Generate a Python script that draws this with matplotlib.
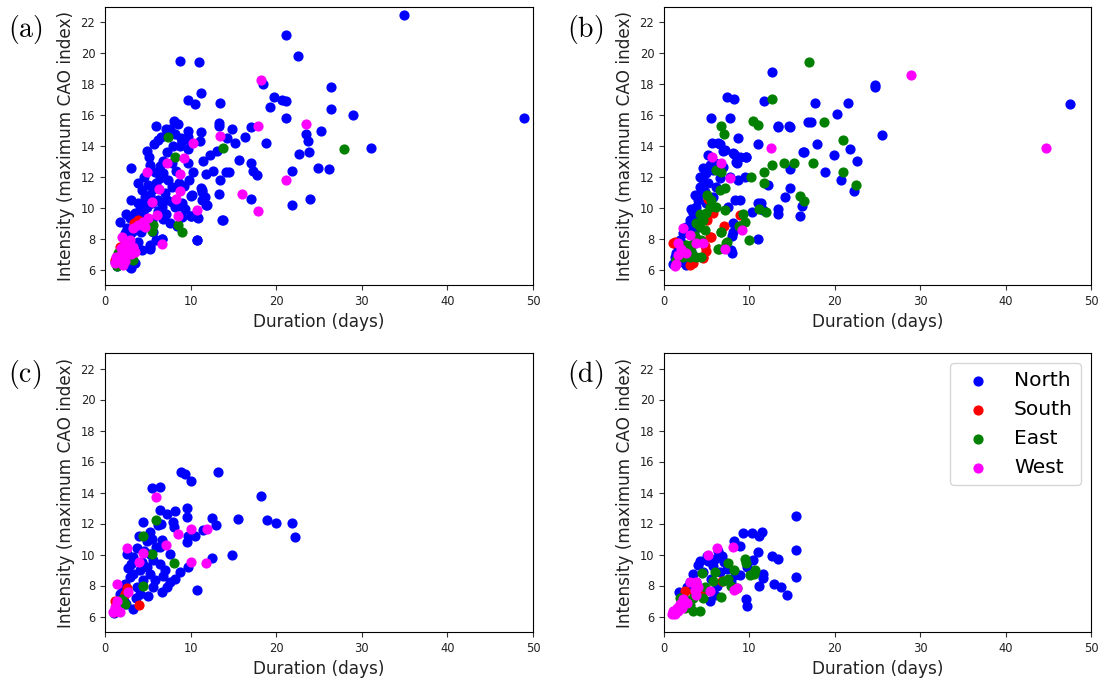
import matplotlib
matplotlib.use("Agg")
import matplotlib.pyplot as plt
import numpy as np

plt.rcParams["mathtext.fontset"] = "cm"

# ---- panel (a) ----
a_north = [
    (34.9, 22.5), (21.1, 21.2), (22.6, 19.8), (8.8, 19.5), (11.0, 19.45), (18.5, 18.0),
    (26.4, 17.8), (11.2, 17.4), (9.7, 17.0), (10.5, 16.7), (13.4, 16.8), (19.7, 17.2),
    (20.7, 17.0), (21.1, 16.9), (19.3, 16.5), (26.4, 16.4), (21.2, 15.8), (29.0, 16.0),
    (48.9, 15.8), (5.9, 15.3), (8.1, 15.6), (8.5, 15.4), (7.1, 15.1), (7.6, 15.1),
    (9.7, 15.0), (11.2, 14.9), (13.3, 15.5), (13.3, 15.3), (14.8, 15.1), (17.0, 15.25),
    (23.5, 14.8), (23.7, 14.3), (25.2, 15.0), (6.5, 14.6), (8.9, 14.5), (9.7, 14.6),
    (11.1, 14.3), (14.2, 14.5), (15.2, 14.2), (16.3, 14.6), (18.8, 14.2), (31.1, 13.9),
    (22.7, 13.5), (23.8, 13.6), (5.7, 14.1), (4.9, 13.7), (5.1, 13.3), (3.0, 12.6),
    (6.4, 12.7), (9.7, 12.9), (11.5, 13.0), (12.3, 13.4), (13.1, 13.7), (15.6, 13.1),
    (17.0, 12.9), (17.3, 12.4), (17.7, 12.1), (10.3, 12.3), (11.8, 12.2), (12.6, 12.4),
    (14.1, 12.3), (14.5, 12.3), (13.4, 11.8), (21.8, 12.4), (24.9, 12.6), (26.2, 12.5),
    (11.2, 11.25), (11.3, 11.0), (13.3, 10.9), (10.0, 10.75), (17.1, 10.6), (24.0, 10.6),
    (21.8, 10.2), (11.3, 10.5), (11.8, 10.2), (8.7, 10.1), (10.0, 9.45), (10.7, 9.4),
    (13.8, 9.2), (7.1, 9.6), (1.75, 9.05), (10.7, 7.9), (6.7, 8.0), (5.2, 7.6),
    (5.3, 7.35), (3.0, 6.1), (8.8, 14.0), (9.7, 13.8), (9.0, 14.3), (10.1, 14.2),
    (4.36, 11.15), (5.07, 11.47), (4.68, 10.71), (3.9, 10.28), (3.51, 9.63), (2.92, 9.31),
    (2.53, 8.66), (4.09, 9.85), (5.46, 10.28), (6.24, 10.5), (6.63, 10.06), (7.01, 10.93),
    (7.4, 11.79), (6.82, 12.23), (7.79, 11.36), (7.21, 10.5), (8.18, 10.06), (8.96, 10.28),
    (9.35, 9.95), (10.13, 10.82), (11.3, 11.15), (11.69, 10.71), (11.89, 10.17), (10.05, 9.46),
    (10.91, 9.31), (8.96, 9.42), (13.72, 9.24), (10.76, 7.9), (6.7, 8.01), (5.26, 7.47),
    (4.29, 7.25), (2.92, 6.17), (5.46, 9.2), (4.87, 10.06), (3.31, 8.77), (2.34, 8.34),
    (1.2, 6.5), (1.5, 6.9), (1.8, 7.2), (2.1, 7.5), (2.5, 7.8), (2.8, 8.1),
    (3.2, 8.4), (3.6, 8.9), (4.0, 9.3), (4.4, 9.7), (4.8, 10.4), (5.2, 10.8),
    (5.6, 11.2), (6.0, 11.6), (6.4, 11.9), (5.8, 12.3), (6.8, 13.0), (7.3, 13.6),
    (7.8, 12.9), (8.3, 12.4), (8.6, 11.6), (9.2, 11.4), (9.8, 11.8), (6.2, 9.8),
    (6.8, 9.3), (7.6, 9.0), (4.2, 8.4), (3.8, 7.8), (3.2, 7.2), (2.6, 6.8),
    (2.0, 6.6), (1.4, 6.2), (3.5, 6.4), (5.6, 8.4), (6.0, 7.9), (7.8, 10.4),
    (8.4, 8.8), (3.0, 10.5), (2.4, 9.6), (3.8, 11.6), (4.5, 12.0), (5.3, 12.8),
    (6.2, 14.4), (7.9, 14.0), (8.2, 14.8),
]
a_south = [(3.9, 9.2), (1.75, 7.47), (2.73, 6.86), (1.17, 6.65), (3.4, 9.0)]
a_east = [
    (7.4, 14.6), (13.8, 13.9), (27.9, 13.8), (8.2, 13.3), (8.5, 8.9), (8.96, 8.4),
    (5.65, 8.88), (1.56, 7.08), (2.73, 6.97), (3.31, 6.65), (1.36, 6.22), (5.45, 8.5),
]
a_west = [
    (18.2, 18.3), (17.9, 15.3), (23.5, 15.4), (10.3, 14.2), (13.4, 14.65), (9.2, 13.2),
    (7.2, 12.9), (4.9, 12.3), (8.8, 12.2), (6.3, 11.2), (8.8, 11.1), (16.0, 10.9),
    (21.2, 11.8), (5.5, 10.4), (8.3, 10.6), (10.7, 9.85), (17.9, 9.8), (8.5, 9.5),
    (6.7, 7.65), (6.04, 9.52), (5.07, 9.31), (4.48, 9.09), (3.9, 8.88), (3.31, 8.66),
    (4.68, 8.77), (1.95, 8.11), (2.34, 7.68), (2.92, 7.9), (3.31, 7.47), (3.51, 7.15),
    (2.34, 7.08), (1.75, 6.86), (1.17, 6.43), (1.56, 6.54), (2.34, 6.54), (2.6, 7.3),
    (1.9, 7.4), (3.0, 7.0), (2.1, 6.3), (1.3, 6.8),
]

# ---- panel (b) ----
b_north = [
    (12.7, 18.8), (24.7, 17.95), (24.7, 17.8), (47.5, 16.7), (7.4, 17.15), (8.2, 17.05),
    (11.75, 16.9), (17.7, 16.8), (21.5, 16.8), (5.46, 15.8), (7.7, 15.8), (13.4, 15.25),
    (14.75, 15.25), (17.2, 15.55), (20.2, 16.1), (8.7, 14.5), (11.0, 14.15), (25.5, 14.7),
    (21.8, 13.8), (5.6, 14.2), (6.6, 14.1), (6.9, 13.7), (8.2, 13.5), (8.6, 12.9),
    (9.6, 13.3), (17.9, 14.1), (16.3, 13.6), (19.9, 13.4), (22.6, 13.0), (18.9, 12.3),
    (20.7, 11.8), (22.2, 11.1), (12.2, 11.5), (14.75, 12.5), (14.75, 11.25), (14.2, 10.7),
    (16.2, 10.1), (15.9, 9.5), (13.3, 9.9), (13.3, 9.6), (11.0, 10.3), (11.4, 10.3),
    (11.0, 8.0), (8.0, 8.2), (8.0, 7.1), (8.9, 8.8), (10.3, 9.7), (6.3, 14.2),
    (7.1, 13.74), (8.08, 13.52), (8.86, 13.31), (9.64, 13.31), (8.47, 12.98), (5.35, 12.77),
    (5.74, 12.45), (4.96, 12.23), (4.57, 11.8), (4.18, 11.37), (4.37, 10.93), (3.98, 10.5),
    (3.79, 10.06), (3.4, 9.63), (3.01, 9.2), (2.62, 8.77), (2.23, 8.34), (1.83, 7.9),
    (1.64, 7.47), (1.44, 7.04), (1.05, 6.39), (6.9, 12.66), (7.69, 12.02), (8.67, 11.8),
    (9.44, 12.02), (8.86, 10.5), (7.49, 10.06), (6.13, 11.37), (5.74, 10.72), (4.96, 10.28),
    (8.08, 8.99), (8.08, 8.45), (7.88, 7.25), (11.6, 9.85), (8.3, 10.5), (4.8, 11.0),
    (5.2, 11.6), (6.5, 11.9), (4.2, 12.0), (4.6, 12.6), (3.6, 10.8), (3.2, 9.9),
    (2.9, 8.6), (2.0, 7.2), (2.4, 7.6), (1.3, 6.8), (1.8, 6.5), (3.5, 8.5),
    (4.0, 9.4), (6.0, 12.9), (5.2, 13.4), (16.4, 13.63), (16.9, 15.53), (14.6, 15.3),
    (13.35, 15.3), (2.6, 6.3), (3.3, 7.0),
]
b_south = [
    (5.15, 10.55), (5.74, 9.63), (8.86, 9.52), (6.99, 8.84), (5.54, 8.1), (1.25, 7.76),
    (4.76, 7.5), (4.57, 6.82), (3.4, 6.45), (2.6, 7.4), (4.96, 7.2), (5.0, 9.2),
    (3.0, 6.3), (5.4, 8.1), (4.6, 6.75), (1.1, 7.7),
]
b_east = [
    (17.0, 19.47), (12.7, 17.05), (10.4, 15.6), (11.05, 15.35), (18.7, 15.55), (6.7, 15.3),
    (7.0, 14.8), (21.0, 14.4), (22.5, 11.45), (21.0, 12.3), (14.0, 12.9), (15.2, 12.9),
    (17.4, 12.9), (12.7, 12.8), (11.75, 12.3), (11.75, 11.6), (15.9, 10.75), (16.4, 10.45),
    (11.1, 9.9), (11.9, 9.7), (9.95, 7.9), (6.7, 8.4), (7.4, 7.8), (6.4, 7.3),
    (9.2, 9.6), (9.5, 9.1), (8.8, 8.8), (6.1, 12.45), (6.7, 12.34), (7.1, 11.26),
    (6.5, 11.15), (10.2, 11.97), (5.54, 10.5), (5.35, 10.06), (4.96, 9.63), (4.57, 9.2),
    (4.18, 8.77), (3.79, 8.99), (4.76, 8.56), (4.37, 7.9), (3.4, 7.68), (2.81, 7.25),
    (2.22, 6.82), (3.0, 6.82), (3.79, 6.82), (4.37, 6.82), (6.13, 10.06), (7.1, 9.85),
    (6.71, 8.45), (7.3, 7.74), (6.32, 7.3), (1.64, 6.82), (1.44, 6.6), (5.0, 10.8),
    (4.2, 9.6), (3.6, 8.2), (2.6, 7.6), (3.2, 7.2),
]
b_west = [
    (28.9, 18.6), (44.7, 13.9), (12.5, 13.85), (5.66, 13.26), (6.71, 12.88), (7.77, 11.9),
    (9.17, 8.58), (7.1, 7.3), (2.22, 8.7), (3.0, 8.26), (3.79, 7.7), (4.57, 7.7),
    (1.64, 7.7), (2.03, 7.3), (2.62, 7.04), (1.64, 6.93), (1.44, 6.39), (1.3, 6.2),
]

# ---- panel (c) ----
c_north = [
    (8.9, 15.3), (9.3, 15.2), (13.25, 15.3), (10.0, 14.75), (5.46, 14.27), (6.43, 14.33),
    (18.2, 13.8), (6.43, 12.9), (7.2, 12.6), (8.2, 12.8), (9.55, 13.0), (9.55, 12.4),
    (4.48, 12.1), (12.5, 12.35), (13.0, 11.9), (15.55, 12.3), (18.9, 12.25), (20.0, 12.05),
    (21.9, 12.05), (22.25, 11.1), (6.2, 11.9), (6.6, 12.0), (8.0, 12.1), (8.1, 11.8),
    (11.4, 11.6), (9.55, 10.8), (10.5, 11.2), (9.75, 11.2), (5.26, 11.45), (4.87, 10.9),
    (6.63, 10.95), (6.43, 10.48), (7.6, 10.05), (3.7, 10.4), (2.53, 10.05), (12.55, 9.75),
    (14.8, 9.95), (9.7, 9.2), (8.77, 8.9), (8.2, 8.4), (10.7, 7.72), (6.7, 7.6),
    (5.0, 7.35), (3.3, 6.5), (2.5, 6.8), (2.73, 9.1), (3.3, 8.76), (4.1, 8.97),
    (4.87, 9.19), (5.65, 9.62), (6.43, 9.4), (7.0, 8.97), (5.26, 8.76), (5.85, 8.33),
    (4.48, 8.33), (3.7, 7.9), (2.9, 8.54), (2.34, 8.1), (1.75, 7.46), (4.1, 7.46),
    (5.65, 7.9), (7.2, 7.9), (3.3, 9.83), (4.29, 9.5), (5.26, 10.05), (6.0, 10.5),
    (5.5, 11.0), (4.0, 11.2), (3.0, 9.4), (2.0, 7.6), (1.5, 6.8), (1.3, 6.4),
    (2.2, 7.0), (3.6, 7.2), (6.8, 8.6), (7.6, 8.2), (4.6, 10.2), (1.0, 6.2),
]
c_south = [(2.53, 7.85), (4.0, 6.71), (1.17, 6.99), (1.05, 6.28), (2.34, 7.42)]
c_east = [
    (5.96, 12.25), (4.48, 11.17), (5.5, 10.03), (8.07, 9.45), (4.48, 7.98), (1.99, 7.12),
    (2.3, 6.78),
]
c_west = [
    (5.96, 13.73), (8.5, 11.34), (10.0, 11.66), (11.96, 11.66), (7.17, 10.6), (2.53, 10.44),
    (4.48, 10.1), (4.0, 9.53), (10.0, 9.53), (11.8, 9.45), (1.44, 8.11), (2.69, 7.57),
    (1.36, 7.03), (1.17, 6.6), (1.75, 6.28), (0.97, 6.28), (1.4, 6.4),
]

# ---- panel (d) ----
d_north = [
    (15.45, 12.48), (9.2, 11.4), (10.27, 11.4), (11.1, 11.2), (11.5, 11.45), (8.2, 10.85),
    (8.9, 10.55), (15.45, 10.27), (11.0, 10.15), (12.7, 9.9), (13.4, 9.7), (10.46, 9.65),
    (9.7, 9.2), (11.55, 8.75), (11.55, 8.5), (11.16, 8.0), (15.45, 8.55), (12.9, 8.08),
    (13.66, 7.9), (14.44, 7.4), (9.6, 7.1), (9.7, 6.67), (6.75, 9.9), (5.97, 9.7),
    (5.2, 9.6), (4.2, 9.6), (4.0, 9.3), (3.36, 8.76), (3.04, 8.23), (2.65, 7.9),
    (1.72, 7.57), (5.4, 7.0), (5.0, 9.93), (5.78, 9.28), (6.56, 8.86), (7.34, 9.07),
    (8.3, 8.65), (7.9, 8.2), (8.9, 8.65), (4.6, 8.9), (5.5, 8.4), (6.2, 8.0),
    (3.8, 8.2), (2.2, 7.3), (4.5, 7.6), (6.0, 7.4), (7.0, 9.5), (6.3, 10.2),
]
d_south = [(2.46, 7.66), (6.75, 8.3), (4.6, 7.7), (3.5, 7.6)]
d_east = [
    (9.5, 9.73), (9.55, 9.45), (7.5, 9.45), (8.2, 8.97), (10.65, 8.97), (10.1, 8.65),
    (10.5, 8.75), (4.4, 8.8), (5.97, 8.86), (5.78, 8.3), (7.5, 8.45), (6.95, 8.3),
    (7.9, 7.98), (8.5, 7.87), (6.64, 7.27), (3.43, 7.2), (3.04, 6.77), (3.43, 6.34),
    (4.2, 6.34), (2.46, 6.55), (1.9, 7.2), (4.8, 7.9), (4.6, 7.2), (2.8, 7.0),
]
d_west = [
    (5.2, 10.0), (6.25, 10.44), (8.04, 10.5), (3.04, 8.23), (3.8, 8.23), (4.0, 7.9),
    (3.6, 7.7), (3.8, 7.38), (5.4, 7.64), (8.5, 7.87), (8.2, 7.7), (2.26, 7.1),
    (1.87, 6.8), (1.48, 6.57), (1.1, 6.35), (0.9, 6.17), (2.65, 6.87), (2.07, 6.57),
    (1.68, 6.35), (1.29, 6.17),
]

regions = ["North", "South", "East", "West"]
colors = ["blue", "red", "green", "magenta"]
panels = [
    ("(a)", [a_north, a_south, a_east, a_west]),
    ("(b)", [b_north, b_south, b_east, b_west]),
    ("(c)", [c_north, c_south, c_east, c_west]),
    ("(d)", [d_north, d_south, d_east, d_west]),
]

W, H = 1099, 682
fig = plt.figure(figsize=(W / 100, H / 100), dpi=100)

# axes boxes in pixels: left, top, right, bottom
boxes = [(105, 7, 533, 285), (664, 7, 1091, 285),
         (105, 353, 533, 632), (664, 353, 1091, 632)]
label_pos = [(8, 30), (567, 30), (8, 375), (567, 375)]

for (tag, groups), (l, t, r, b), (lx, ly) in zip(panels, boxes, label_pos):
    ax = fig.add_axes([l / W, 1 - b / H, (r - l) / W, (b - t) / H])
    for pts, name, col in zip(groups, regions, colors):
        arr = np.array(pts)
        ax.scatter(arr[:, 0], arr[:, 1], s=40, c=col, label=name)
    ax.set_xlim(0, 50)
    ax.set_ylim(5, 23)
    ax.set_xticks(np.arange(0, 51, 10))
    ax.set_yticks(np.arange(6, 23, 2))
    ax.tick_params(labelsize=8.3, colors="#333333", labelcolor="#222222")
    ax.set_xlabel("Duration (days)", fontsize=12.2, color="#222222")
    ax.set_ylabel("Intensity (maximum CAO index)", fontsize=12.2, color="#222222")
    fig.text(lx / W, 1 - ly / H, r"$\mathrm{%s}$" % tag, fontsize=20,
             ha="left", va="center")
    if tag == "(d)":
        ax.legend(loc="upper right", fontsize=14.5)

fig.savefig("out.png", dpi=100)
